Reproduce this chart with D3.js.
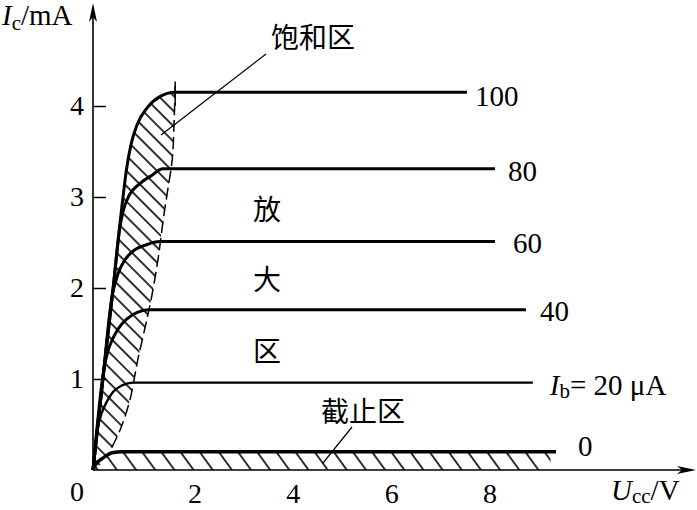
<!DOCTYPE html>
<meta charset="utf-8">
<style>
body { margin: 0; background: #fff; }
svg { font-family: "Liberation Serif", "Times New Roman", serif; }
.num { font-size: 29px; fill: #000; }
.cn { font-family: "Noto Sans CJK SC", sans-serif; font-size: 28px; fill: #000; }
.curve { fill: none; stroke: #000; stroke-linejoin: round; stroke-linecap: butt; }
</style>
<svg></svg>
<script src="https://d3js.org/d3.v7.min.js"></script>
<script>

var width = 697, height = 510;

// output characteristic curves: [U_ce (V), I_c (mA)]
var ibValues = [100, 80, 60, 40, 20, 0];
var curve100 = [[0, 0], [0.2, 1.0], [0.41, 2.0], [0.61, 3.0], [0.68, 3.3], [0.77, 3.57], [0.9, 3.8], [1.1, 3.98], [1.35, 4.1], [1.67, 4.15], [7.6, 4.15]];
var curve80 = [[0, 0], [0.2, 1.0], [0.41, 2.0], [0.54, 2.65], [0.61, 2.84], [0.71, 2.99], [0.96, 3.15], [1.2, 3.24], [1.42, 3.31], [8.17, 3.31]];
var curve60 = [[0, 0], [0.2, 1.0], [0.4, 1.95], [0.45, 2.05], [0.51, 2.16], [0.65, 2.31], [0.85, 2.42], [1.06, 2.47], [1.36, 2.51], [8.17, 2.51]];
var curve40 = [[0, 0], [0.22, 1.1], [0.3, 1.3], [0.39, 1.43], [0.51, 1.55], [0.69, 1.66], [0.89, 1.73], [1.12, 1.76], [8.8, 1.76]];
var curve20 = [[0, 0], [0.08, 0.4], [0.12, 0.52], [0.18, 0.63], [0.28, 0.75], [0.41, 0.86], [0.59, 0.93], [0.81, 0.96], [8.94, 0.96]];
var curve0 = [[0, 0], [0.04, 0.05], [0.2, 0.13], [0.39, 0.19], [0.6, 0.2], [9.41, 0.2]];
var curves = [curve100, curve80, curve60, curve40, curve20, curve0];
var curveWidths = [3, 3, 3, 3, 2.4, 3.4];

// right edge of the saturation region (dashed), top to bottom
var satEdge = [[1.67, 4.22], [1.65, 3.85], [1.61, 3.41], [1.52, 3.08], [1.44, 2.8], [1.32, 2.31], [1.18, 1.87], [1.06, 1.57], [0.91, 1.21], [0.75, 0.77], [0.55, 0.44], [0.3, 0.16], [0.04, 0]];

var xTicks = [2, 4, 6, 8];
var yTicks = [1, 2, 3, 4];

var x = d3.scaleLinear().domain([0, 10]).range([93, 585]);
var y = d3.scaleLinear().domain([0, 5]).range([470, 15]);

var svg = d3.select('svg')
  .attr('width', width)
  .attr('height', height);

var defs = svg.append('defs');

var hatch = defs.append('pattern')
  .attr('id', 'hatch')
  .attr('patternUnits', 'userSpaceOnUse')
  .attr('width', 10.8)
  .attr('height', 10.8)
  .attr('patternTransform', 'rotate(-45)');
hatch.append('line')
  .attr('x1', 1).attr('y1', 0).attr('x2', 1).attr('y2', 10.8)
  .attr('stroke', '#000').attr('stroke-width', 1.6);

var hatch2 = defs.append('pattern')
  .attr('id', 'hatch2')
  .attr('patternUnits', 'userSpaceOnUse')
  .attr('width', 15.5)
  .attr('height', 15.5)
  .attr('patternTransform', 'translate(100,0) rotate(-36)');
hatch2.append('line')
  .attr('x1', 1).attr('y1', 0).attr('x2', 1).attr('y2', 15.5)
  .attr('stroke', '#000').attr('stroke-width', 1.6);

var line = d3.line()
  .x(function (d) { return x(d[0]); })
  .y(function (d) { return y(d[1]); })
  .curve(d3.curveMonotoneX);

var edgeLine = d3.line()
  .x(function (d) { return x(d[0]); })
  .y(function (d) { return y(d[1]); })
  .curve(d3.curveCatmullRom);

// saturation region: envelope of the 100 uA curve plus the dashed edge
var envelope = curve100.filter(function (d) { return d[0] <= 1.67; });
var satPath = line(envelope) + 'L' + edgeLine(satEdge).slice(1) + 'Z';
svg.append('path')
  .attr('d', satPath)
  .attr('fill', 'url(#hatch)');

// cut-off region under the Ib = 0 curve
var cutArea = d3.area()
  .x(function (d) { return x(d[0]); })
  .y0(y(0))
  .y1(function (d) { return y(d[1]); })
  .curve(d3.curveMonotoneX);
svg.append('path')
  .attr('d', cutArea(curve0.map(function (d) { return [Math.min(d[0], 9.3), d[1]]; })))
  .attr('fill', 'url(#hatch2)');

svg.append('path')
  .attr('d', edgeLine(satEdge.slice(0, satEdge.length - 1)))
  .attr('fill', 'none')
  .attr('stroke', '#000')
  .attr('stroke-width', 1.5)
  .attr('stroke-dasharray', '12,5');

// small cross mark where the dashed edge meets the 100 uA line
svg.append('line')
  .attr('x1', x(1.67)).attr('x2', x(1.67))
  .attr('y1', y(4.27)).attr('y2', y(4.0))
  .attr('stroke', '#000').attr('stroke-width', 1.5);

// axes
var yAxis = d3.axisLeft(y).tickValues(yTicks).tickSizeInner(-13).tickSizeOuter(0).tickPadding(9)
  .tickFormat(d3.format('d'));
var gy = svg.append('g')
  .attr('transform', 'translate(' + x(0) + ',0)')
  .call(yAxis);
gy.select('.domain').remove();
gy.selectAll('.tick line').attr('stroke', '#000').attr('stroke-width', 1.5);
gy.selectAll('.tick text').style('font-family', 'Liberation Serif').style('font-size', '28px').attr('fill', '#000');

var xAxis = d3.axisBottom(x).tickValues(xTicks).tickSize(0).tickPadding(13);
var gx = svg.append('g')
  .attr('transform', 'translate(0,' + y(0) + ')')
  .call(xAxis);
gx.select('.domain').remove();
gx.selectAll('.tick text').attr('dx', 3).style('font-family', 'Liberation Serif').style('font-size', '28px').attr('fill', '#000');

svg.append('line')
  .attr('x1', x(0)).attr('y1', y(0)).attr('x2', x(0)).attr('y2', 14)
  .attr('stroke', '#000').attr('stroke-width', 1.6);
svg.append('line')
  .attr('x1', x(0)).attr('y1', y(0)).attr('x2', 682).attr('y2', y(0))
  .attr('stroke', '#000').attr('stroke-width', 1.6);
svg.append('path')
  .attr('d', 'M' + x(0) + ',3 L' + (x(0) - 4) + ',22 L' + x(0) + ',17 L' + (x(0) + 4) + ',22 Z')
  .attr('fill', '#000');
svg.append('path')
  .attr('d', 'M696,' + y(0) + ' L677,' + (y(0) - 4) + ' L682,' + y(0) + ' L677,' + (y(0) + 4) + ' Z')
  .attr('fill', '#000');

// curves
svg.selectAll('.curve')
  .data(curves)
  .enter().append('path')
  .attr('class', 'curve')
  .attr('d', line)
  .attr('stroke-width', function (d, i) { return curveWidths[i]; });

// curve labels
var labelDx = [8, 13, 18, 14, 17, 22];
var labelDy = [4, 2, 1, 1, 2, -6];
svg.selectAll('.ib')
  .data(curves)
  .enter().append('text')
  .attr('class', 'num ib')
  .attr('x', function (d, i) { return x(d[d.length - 1][0]) + labelDx[i]; })
  .attr('y', function (d, i) { return y(d[d.length - 1][1]) + labelDy[i]; })
  .attr('dominant-baseline', 'central')
  .each(function (d, i) {
    var t = d3.select(this);
    if (ibValues[i] === 20) {
      t.append('tspan').attr('font-style', 'italic').text('I');
      t.append('tspan').attr('font-size', '21px').attr('dy', 6).text('b');
      t.append('tspan').attr('dy', -6).text('= 20 \u03bcA');
    } else {
      t.text(ibValues[i]);
    }
  });

// origin and axis titles
svg.append('text').attr('class', 'num').style('font-size', '28px').attr('x', 77).attr('y', 501).attr('text-anchor', 'middle').text('0');

var yt = svg.append('text').attr('class', 'num').attr('x', 2).attr('y', 25);
yt.append('tspan').attr('font-style', 'italic').text('I');
yt.append('tspan').attr('font-size', '21px').attr('dy', 5).text('c');
yt.append('tspan').attr('dy', -5).text('/mA');

var xt = svg.append('text').attr('class', 'num').attr('x', 611).attr('y', 500);
xt.append('tspan').attr('font-style', 'italic').text('U');
xt.append('tspan').attr('font-size', '21px').attr('dy', 3).text('cc');
xt.append('tspan').attr('dy', -3).text('/V');

// region names and leader lines
svg.append('text').attr('class', 'cn').attr('x', 271).attr('y', 48).text('饱和区');
svg.append('line')
  .attr('x1', 266).attr('y1', 54).attr('x2', 161).attr('y2', 135)
  .attr('stroke', '#000').attr('stroke-width', 1.2);
svg.append('text').attr('class', 'cn').attr('x', 253).attr('y', 220).text('放');
svg.append('text').attr('class', 'cn').attr('x', 253).attr('y', 290).text('大');
svg.append('text').attr('class', 'cn').attr('x', 253).attr('y', 362).text('区');
svg.append('text').attr('class', 'cn').attr('x', 321).attr('y', 422).text('截止区');
svg.append('line')
  .attr('x1', 352).attr('y1', 427).attr('x2', 323).attr('y2', 463)
  .attr('stroke', '#000').attr('stroke-width', 1.2);

</script>
